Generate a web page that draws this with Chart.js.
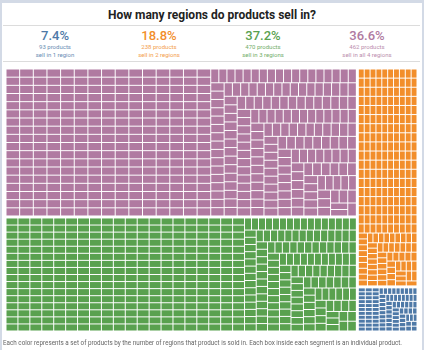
<!DOCTYPE html>
<html>
<head>
<meta charset="utf-8">
<script src="https://cdn.jsdelivr.net/npm/chart.js@4.4.1/dist/chart.umd.min.js"></script>
<style>
  html, body { margin: 0; padding: 0; }
  body { width: 424px; height: 350px; background: #d3dae6; position: relative; overflow: hidden; font-family: Roboto, "Liberation Sans", Arial, sans-serif; }
  #panel { position: absolute; left: 2px; top: 3px; width: 420px; height: 347px; background: #ffffff; }
  .rule { position: absolute; left: 3px; width: 417px; height: 1px; background: #dcdcdc; }
  #title { position: absolute; left: 0; width: 424px; top: 8.5px; text-align: center; font-size: 12px; line-height: 12px; font-weight: 700; color: #222; white-space: nowrap; }
  .kpi { position: absolute; width: 104px; text-align: center; white-space: nowrap; }
  .kpi .big { position: absolute; left: 0; width: 104px; top: 29.5px; font-size: 13px; line-height: 12px; font-weight: 500; }
  .kpi .small { position: absolute; left: 0; width: 104px; top: 43.3px; font-size: 6px; line-height: 7.5px; opacity: 0.85; }
  #note { position: absolute; left: 3px; top: 339.5px; font-size: 6.3px; line-height: 6.4px; color: #666; white-space: nowrap; }
  #tm { position: absolute; left: 0; top: 62px; }
</style>
</head>
<body>
<div id="panel"></div>
<div class="rule" style="top:25px"></div>
<div class="rule" style="top:61px"></div>
<div id="title">How many regions do products sell in?</div>
<div id="kpis"></div>
<canvas id="tm" width="424" height="278"></canvas>
<div id="note">Each color represents a set of products by the number of regions that product is sold in. Each box inside each segment is an individual product.</div>
<script>
// ---- data ----
const groupKeys     = ['1', '2', '3', '4'];
const groupTexts    = ['sell in 1 region', 'sell in 2 regions', 'sell in 3 regions', 'sell in all 4 regions'];
const productCounts = [93, 238, 470, 462];
const groupColors   = ['#4e79a7', '#f28e2b', '#59a14f', '#b07aa1'];
// box size of each product, as runs of [number of products, size]
const boxSizes1 = [[93, 29]];
const boxSizes2 = [[238, 55]];
const boxSizes3 = [[470, 85]];
const boxSizes4 = [[462, 112]];
const boxSizeRuns = [boxSizes1, boxSizes2, boxSizes3, boxSizes4];

// ---- header KPIs ----
const total = productCounts.reduce((a, b) => a + b, 0);
const kpiBox = document.getElementById('kpis');
productCounts.forEach((c, i) => {
  const d = document.createElement('div');
  d.className = 'kpi';
  d.style.left = (3 + i * 104) + 'px';
  d.style.top = '0px';
  d.style.color = groupColors[i];
  d.innerHTML = '<div class="big">' + (c / total * 100).toFixed(1) + '%</div>' +
    '<div class="small">' + c + ' products<br>' + groupTexts[i] + '</div>';
  kpiBox.appendChild(d);
});

// ---- treemap helpers ----
function expand(runs) {
  const out = [];
  runs.forEach(([n, v]) => { for (let k = 0; k < n; k++) out.push(v); });
  return out;
}
function squarify(values, x0, y0, x1, y1, ratio) {
  const rects = [];
  let value = values.reduce((a, b) => a + b, 0);
  let i0 = 0, i1 = 0;
  const n = values.length;
  while (i0 < n) {
    const dx = x1 - x0, dy = y1 - y0;
    let sumValue = values[i1++];
    let minValue = sumValue, maxValue = sumValue;
    const alpha = Math.max(dy / dx, dx / dy) / (value * ratio);
    let beta = sumValue * sumValue * alpha;
    let minRatio = Math.max(maxValue / beta, beta / minValue);
    for (; i1 < n; ++i1) {
      const nv = values[i1];
      sumValue += nv;
      if (nv < minValue) minValue = nv;
      if (nv > maxValue) maxValue = nv;
      beta = sumValue * sumValue * alpha;
      const newRatio = Math.max(maxValue / beta, beta / minValue);
      if (newRatio > minRatio) { sumValue -= nv; break; }
      minRatio = newRatio;
    }
    const row = values.slice(i0, i1);
    if (dx < dy) {
      const yb = i1 < n ? y0 + dy * sumValue / value : y1;
      let x = x0;
      row.forEach(v => { const w = dx * v / sumValue; rects.push([x, y0, x + w, yb]); x += w; });
      y0 = yb;
    } else {
      const xb = i1 < n ? x0 + dx * sumValue / value : x1;
      let y = y0;
      row.forEach(v => { const h = dy * v / sumValue; rects.push([x0, y, xb, y + h]); y += h; });
      x0 = xb;
    }
    value -= sumValue; i0 = i1;
  }
  return rects;
}

const groupValues = boxSizeRuns.map(expand);
const groupTotals = groupValues.map(v => v.reduce((a, b) => a + b, 0));

const treemapPlugin = {
  id: 'treemap',
  afterDatasetsDraw(chart) {
    const xs = chart.scales.x, ys = chart.scales.y, ctx = chart.ctx;
    const L = xs.getPixelForValue(0), R = xs.getPixelForValue(1);
    const T = ys.getPixelForValue(0), B = ys.getPixelForValue(1);
    // two columns: [all 4, 3 regions] and [2 regions, 1 region]
    const columns = [[3, 2], [1, 0]];
    const grand = groupTotals.reduce((a, b) => a + b, 0);
    let x = L;
    const gap = 1;
    columns.forEach(col => {
      const colSum = col.reduce((a, g) => a + groupTotals[g], 0);
      const w = (R - L) * colSum / grand;
      let y = T;
      col.forEach(g => {
        const h = (B - T) * groupTotals[g] / colSum;
        const cells = squarify(groupValues[g], x + gap, y + gap, x + w - gap, y + h - gap, (1 + Math.sqrt(5)) / 2);
        ctx.save();
        ctx.fillStyle = groupColors[g];
        cells.forEach(([a, b, c, d]) => {
          ctx.fillRect(a + 0.5, b + 0.5, Math.max(0.3, c - a - 1), Math.max(0.3, d - b - 1));
        });
        ctx.restore();
        y += h;
      });
      x += w;
    });
  }
};

new Chart(document.getElementById('tm'), {
  type: 'scatter',
  data: { datasets: groupKeys.map((k, i) => ({ label: groupTexts[i], data: [], backgroundColor: groupColors[i] })) },
  options: {
    responsive: false,
    animation: false,
    events: [],
    layout: { padding: { left: 5, right: 6, top: 6, bottom: 8 } },
    plugins: { legend: { display: false }, tooltip: { enabled: false } },
    scales: {
      x: { type: 'linear', min: 0, max: 1, display: false },
      y: { type: 'linear', min: 0, max: 1, reverse: true, display: false }
    }
  },
  plugins: [treemapPlugin]
});
</script>
</body>
</html>
